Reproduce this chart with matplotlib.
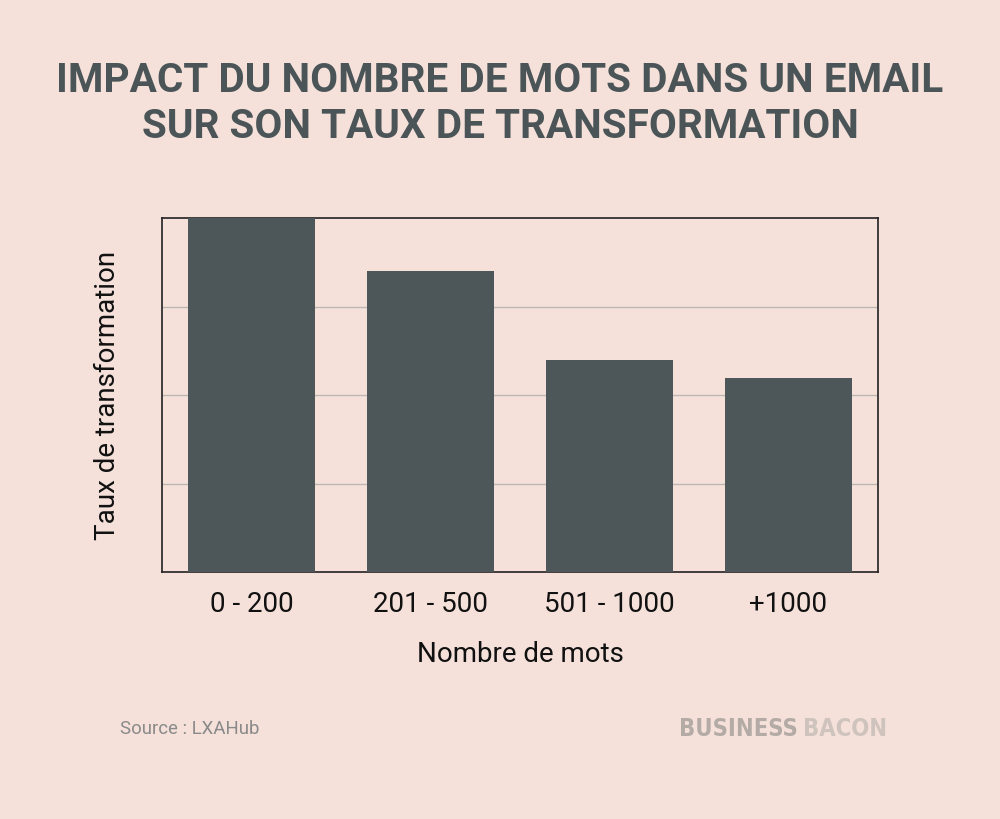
import matplotlib
matplotlib.use("Agg")
import matplotlib.pyplot as plt

categories = ["0 - 200", "201 - 500", "501 - 1000", "+1000"]
values = [4.0, 3.40, 2.40, 2.19]

BG = "#F5E1DA"
DARK = "#4D5659"

plt.rcParams['font.family'] = ['Roboto', 'DejaVu Sans']

fig = plt.figure(figsize=(10, 8.19), dpi=100, facecolor=BG)
ax = fig.add_axes([0.162, 1 - 572/819, (878-162)/1000, (572-218)/819])
ax.set_facecolor(BG)

x = range(len(categories))
ax.bar(x, values, width=0.71, color=DARK, zorder=3)
ax.set_xlim(-0.5, 3.5)
ax.set_ylim(0, 4)
ax.set_yticks([1, 2, 3])
ax.set_yticklabels([])
ax.tick_params(axis='y', length=0)
ax.tick_params(axis='x', length=0, pad=14, labelsize=20, colors="#111111")
ax.set_xticks(list(x))
ax.set_xticklabels(categories)
ax.grid(axis='y', color="#BDB6B3", linewidth=1, zorder=0)
for s in ax.spines.values():
    s.set_color("#222222")
    s.set_linewidth(1.2)

ax.set_xlabel("Nombre de mots", fontsize=20, labelpad=16, color="#111111")
ax.set_ylabel("Taux de transformation", fontsize=20, labelpad=26, color="#111111")

fig.text(0.5, 1 - 104/819, "IMPACT DU NOMBRE DE MOTS DANS UN EMAIL\nSUR SON TAUX DE TRANSFORMATION",
         ha='center', va='center', fontsize=29.2, fontweight='bold', color="#4B5558",
         linespacing=1.27)

fig.text(0.12, 1 - 729/819, "Source : LXAHub", ha='left', va='center', fontsize=13.4, color="#8A8A8A")

logo_family = ['DejaVu Sans']
fig.text(0.679, 1 - 729/819, "BUSINESS", ha='left', va='center', fontsize=17,
         fontweight='bold', fontstretch='condensed', color="#B5ABA6", family=logo_family)
fig.text(0.887, 1 - 729/819, "BACON", ha='right', va='center', fontsize=17,
         fontweight='bold', fontstretch='condensed', color="#CFC3BD", family=logo_family)

fig.savefig("out.png", dpi=100, facecolor=BG)
